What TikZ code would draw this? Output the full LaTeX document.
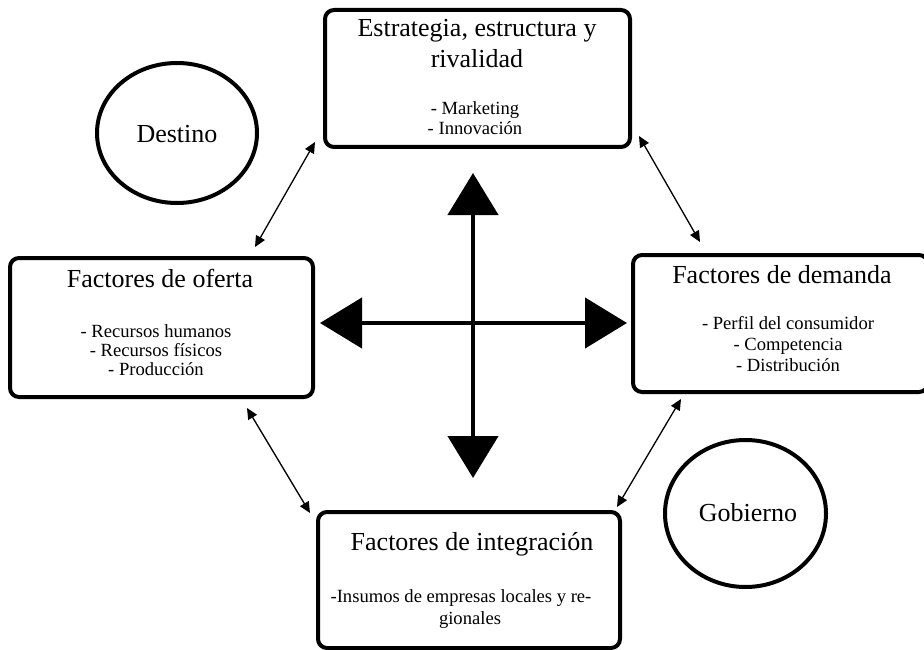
\documentclass[tikz,border=0pt]{standalone}
\usepackage{fontspec}
\setmainfont{Liberation Serif}
\usetikzlibrary{arrows.meta,shapes.geometric}
\begin{document}
\begin{tikzpicture}[x=1pt,y=-1pt,
 box/.style={draw, line width=4pt, rounded corners=9pt, inner sep=0pt, outer sep=0pt},
 circ/.style={draw, ellipse, line width=4pt, inner sep=0pt, outer sep=0pt},
 ttl/.style={font=\fontsize{26}{31}\selectfont, anchor=base, inner sep=0pt},
 itm/.style={font=\fontsize{18.6}{21}\selectfont, anchor=base, inner sep=0pt},
 big/.style={line width=4.5pt, {Triangle[length=42pt,width=50pt]}-{Triangle[length=42pt,width=50pt]}},
 small/.style={line width=1.3pt, {Triangle[length=11pt,width=10pt]}-{Triangle[length=11pt,width=10pt]}}]
\useasboundingbox[fill=white] (0,0) rectangle (924,650);

% boxes
\node[box, minimum width=305pt, minimum height=137pt] (strat) at (477.5,78.5) {};
\node[box, minimum width=303pt, minimum height=139pt] (oferta) at (161.5,327.5) {};
\node[box, minimum width=295pt, minimum height=137pt] (demanda) at (780.5,323.5) {};
\node[box, minimum width=302pt, minimum height=136pt] (integ) at (469,580) {};

% circles
\node[circ, minimum width=160pt, minimum height=140pt] (destino) at (177,133) {};
\node[circ, minimum width=161pt, minimum height=147pt] (gobierno) at (745.5,513.5) {};
\node[ttl] (destinotxt) at (177,143) {Destino};
\node[ttl] (gobiernotxt) at (748,521) {Gobierno};

% texts: strat
\node[ttl] (s1) at (477,37) {Estrategia, estructura y};
\node[ttl] (s2) at (477,68) {rivalidad};
\node[itm] (s3) at (475,115) {- Marketing};
\node[itm] (s4) at (475,135) {- Innovación};

% texts: oferta
\node[ttl] (o1) at (160,287) {Factores de oferta};
\node[itm] (o2) at (156,337) {- Recursos humanos};
\node[itm] (o3) at (156,356) {- Recursos físicos};
\node[itm] (o4) at (156,375) {- Producción};

% texts: demanda
\node[ttl] (d1) at (782,283) {Factores de demanda};
\node[itm] (d2) at (788,329) {- Perfil del consumidor};
\node[itm] (d3) at (788,350) {- Competencia};
\node[itm] (d4) at (788,371) {- Distribución};

% texts: integracion
\node[ttl] (i1) at (472,550) {Factores de integración};
\node[itm] (i2) at (461,602) {-Insumos de empresas locales y re-};
\node[itm] (i3) at (470,624) {gionales};

% big cross
\coordinate (vt) at (473,173);
\coordinate (vb) at (473,478);
\coordinate (hl) at (320,323);
\coordinate (hr) at (627,323);
\draw[big] (vb) -- (vt);
\draw[big] (hl) -- (hr);

% small arrows
\coordinate (a1) at (255,247);
\coordinate (a2) at (315,142);
\coordinate (b1) at (639,136);
\coordinate (b2) at (700,242);
\coordinate (c1) at (247,408);
\coordinate (c2) at (310,513);
\coordinate (e1) at (681,399);
\coordinate (e2) at (617,507);
\draw[small] (a1) -- (a2);
\draw[small] (b1) -- (b2);
\draw[small] (c1) -- (c2);
\draw[small] (e1) -- (e2);
\end{tikzpicture}
\end{document}
